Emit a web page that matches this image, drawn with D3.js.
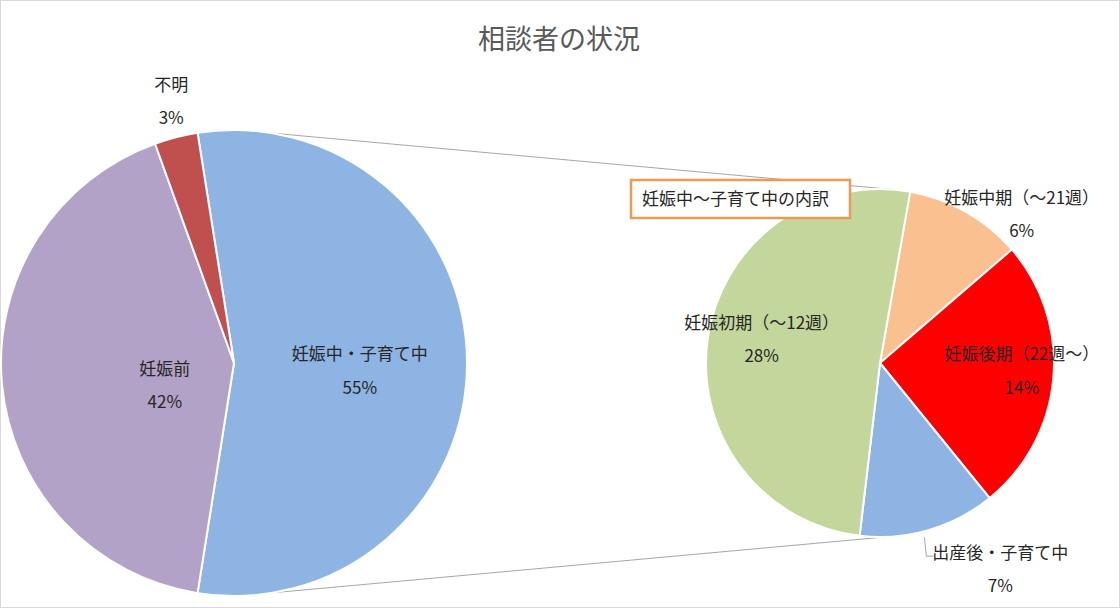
<!DOCTYPE html>
<html>
<head>
<meta charset="utf-8">
<script src="https://cdn.jsdelivr.net/npm/d3@7"></script>
<style>
  body { margin: 0; background: #fff; }
  text { font-family: "Noto Sans CJK JP", "Noto Sans", sans-serif; }
</style>
</head>
<body>
<div id="chart"></div>
<script>
// main pie: categories and shares (%)
const mainNames = ["妊娠中・子育て中", "妊娠前", "不明"];
const mainValues = [55, 42, 3];
const mainColors = ["#8DB4E2", "#B3A2C7", "#C0504D"];

// secondary pie: breakdown of 妊娠中・子育て中
const subNames = ["妊娠中期（～21週）", "妊娠後期（22週～）", "出産後・子育て中", "妊娠初期（～12週）"];
const subValues = [6, 14, 7, 28];
const subColors = ["#FAC090", "#FF0000", "#8DB4E2", "#C3D69B"];

const width = 1120, height = 608;
const deg = Math.PI / 180;

const svg = d3.select("#chart").append("svg")
  .attr("width", width)
  .attr("height", height);

// chart border
svg.append("rect")
  .attr("x", 0.5).attr("y", 0.5)
  .attr("width", width - 1).attr("height", height - 1)
  .attr("fill", "#fff")
  .attr("stroke", "#d9d9d9");

// title
svg.append("text")
  .attr("x", 559).attr("y", 49)
  .attr("text-anchor", "middle")
  .style("font-size", "27px")
  .style("fill", "#595959")
  .text("相談者の状況");

// pie centres and radii
const main = { cx: 234, cy: 363, r: 233 };
const sub = { cx: 880, cy: 363, r: 174 };

// polar -> cartesian, angle clockwise from 12 o'clock
function polar(c, a, r) {
  return [c.cx + r * Math.sin(a * deg), c.cy - r * Math.cos(a * deg)];
}

// connector lines between the two pies
const connectors = [
  [polar(main, 9.5, main.r), polar(sub, 4, sub.r)],
  [polar(main, 170.5, main.r), polar(sub, 178, sub.r)]
];
svg.selectAll(".conn")
  .data(connectors)
  .join("line")
  .attr("x1", d => d[0][0]).attr("y1", d => d[0][1])
  .attr("x2", d => d[1][0]).attr("y2", d => d[1][1])
  .attr("stroke", "#A6A6A6")
  .attr("stroke-width", 1);

// start angles: blue slice centred on the right side, sub pie rotated a little
const mainStart = 90 - (mainValues[0] / d3.sum(mainValues)) * 180;
const subStart = 10;

function drawPie(c, names, values, colors, start) {
  const pie = d3.pie().sort(null).value(d => d)
    .startAngle(start * deg).endAngle((start + 360) * deg);
  const arc = d3.arc().innerRadius(0).outerRadius(c.r);
  const g = svg.append("g").attr("transform", `translate(${c.cx},${c.cy})`);
  g.selectAll("path")
    .data(pie(values))
    .join("path")
    .attr("d", arc)
    .attr("fill", (d, i) => colors[i])
    .attr("stroke", "#fff")
    .attr("stroke-width", 2)
    .attr("stroke-linejoin", "round");
}

drawPie(main, mainNames, mainValues, mainColors, mainStart);
drawPie(sub, subNames, subValues, subColors, subStart);

// data label placement: [angle, distance] from the pie centre
const mainLabelPos = [[92.7, 126], [253.8, 72], [346.6, 271]];
const subLabelPos = [[43.2, 207], [92.4, 142], [149.5, 237], [282, 121]];

function drawLabels(c, names, values, pos) {
  const g = svg.append("g");
  names.forEach((n, i) => {
    const p = polar(c, pos[i][0], pos[i][1]);
    const t = g.append("text")
      .attr("x", p[0]).attr("y", p[1])
      .attr("text-anchor", "middle")
      .style("font-size", "17px")
      .style("fill", "#262626");
    t.append("tspan").attr("x", p[0]).attr("dy", "-0.5em").text(n);
    t.append("tspan").attr("x", p[0]).attr("dy", "1.95em").text(values[i] + "%");
  });
}

drawLabels(main, mainNames, mainValues, mainLabelPos);
drawLabels(sub, subNames, subValues, subLabelPos);

// leader line for 出産後・子育て中
const leadStart = polar(sub, 170, sub.r + 1);
const labelP = polar(sub, subLabelPos[2][0], subLabelPos[2][1]);
svg.append("path")
  .attr("d", `M${leadStart[0] + 14},${leadStart[1] + 2} L${leadStart[0] + 16},${labelP[1] - 11} L${leadStart[0] + 23},${labelP[1] - 11}`)
  .attr("fill", "none")
  .attr("stroke", "#A6A6A6")
  .attr("stroke-width", 1);

// subtitle box for the secondary pie
const box = svg.append("g");
box.append("rect")
  .attr("x", 631).attr("y", 180)
  .attr("width", 219).attr("height", 38)
  .attr("fill", "#fff")
  .attr("stroke", "#EE9A55")
  .attr("stroke-width", 2.5);
box.append("text")
  .attr("x", 642).attr("y", 205)
  .style("font-size", "17px")
  .style("fill", "#262626")
  .text("妊娠中～子育て中の内訳");
</script>
</body>
</html>
